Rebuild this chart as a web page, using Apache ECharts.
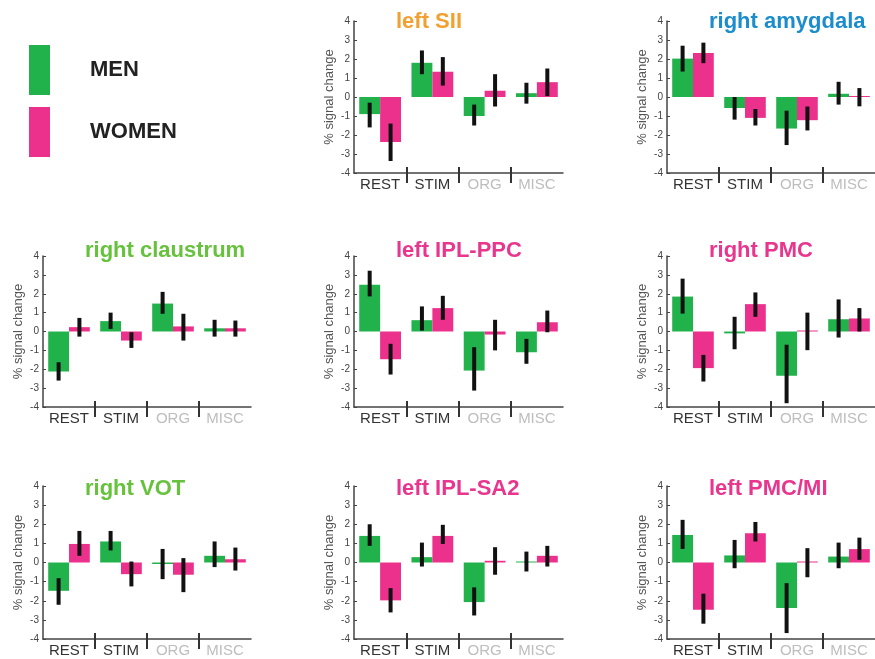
<!DOCTYPE html>
<html>
<head>
<meta charset="utf-8">
<script src="https://cdn.jsdelivr.net/npm/echarts@6/dist/echarts.min.js"></script>
<style>html,body{margin:0;padding:0;background:#fff;}#c{width:875px;height:659px;}</style>
</head>
<body>
<div id="c"></div>
<script>
const categories = ['REST', 'STIM', 'ORG', 'MISC'];
const yTicks = [-4, -3, -2, -1, 0, 1, 2, 3, 4];
const separatorPositions = [1, 2, 3];

const leftSII_men = [-0.9, 1.8, -1.0, 0.2];
const leftSII_menErr = [[-1.6, -0.3], [1.2, 2.45], [-1.5, -0.4], [-0.35, 0.75]];
const leftSII_women = [-2.37, 1.33, 0.33, 0.78];
const leftSII_womenErr = [[-3.37, -1.4], [0.6, 2.1], [-0.5, 1.2], [0.05, 1.5]];

const rightAmygdala_men = [2.02, -0.58, -1.66, 0.17];
const rightAmygdala_menErr = [[1.34, 2.7], [-1.19, 0], [-2.53, -0.72], [-0.4, 0.8]];
const rightAmygdala_women = [2.32, -1.1, -1.22, 0.03];
const rightAmygdala_womenErr = [[1.78, 2.86], [-1.5, -0.63], [-1.76, -0.5], [-0.49, 0.47]];

const rightClaustrum_men = [-2.12, 0.55, 1.48, 0.17];
const rightClaustrum_menErr = [[-2.6, -1.63], [0.14, 1.0], [0.94, 2.1], [-0.27, 0.62]];
const rightClaustrum_women = [0.23, -0.48, 0.27, 0.17];
const rightClaustrum_womenErr = [[-0.27, 0.72], [-0.87, -0.04], [-0.48, 0.94], [-0.27, 0.58]];

const leftIPLPPC_men = [2.48, 0.6, -2.07, -1.1];
const leftIPLPPC_menErr = [[1.86, 3.22], [0.05, 1.33], [-3.13, -0.83], [-1.71, -0.39]];
const leftIPLPPC_women = [-1.47, 1.24, -0.16, 0.49];
const leftIPLPPC_womenErr = [[-2.28, -0.65], [0.62, 1.89], [-1.0, 0.62], [-0.04, 1.11]];

const rightPMC_men = [1.85, -0.1, -2.35, 0.65];
const rightPMC_menErr = [[0.95, 2.8], [-0.94, 0.78], [-3.8, -0.7], [-0.32, 1.7]];
const rightPMC_women = [-1.94, 1.45, 0.02, 0.69];
const rightPMC_womenErr = [[-2.65, -1.24], [0.78, 2.07], [-0.99, 1.0], [0, 1.24]];

const rightVOT_men = [-1.48, 1.1, -0.08, 0.35];
const rightVOT_menErr = [[-2.21, -0.82], [0.63, 1.65], [-0.87, 0.71], [-0.24, 1.1]];
const rightVOT_women = [0.97, -0.61, -0.64, 0.17];
const rightVOT_womenErr = [[0.35, 1.65], [-1.25, 0.05], [-1.55, 0.23], [-0.42, 0.78]];

const leftIPLSA2_men = [1.39, 0.28, -2.07, 0.05];
const leftIPLSA2_menErr = [[0.87, 2.0], [-0.21, 1.04], [-2.77, -1.3], [-0.47, 0.57]];
const leftIPLSA2_women = [-1.98, 1.39, 0.09, 0.35];
const leftIPLSA2_womenErr = [[-2.61, -1.34], [0.97, 1.97], [-0.64, 0.8], [-0.21, 0.87]];

const leftPMCMI_men = [1.44, 0.37, -2.38, 0.31];
const leftPMCMI_menErr = [[0.71, 2.23], [-0.3, 1.18], [-3.69, -1.08], [-0.3, 1.04]];
const leftPMCMI_women = [-2.47, 1.53, 0.02, 0.7];
const leftPMCMI_womenErr = [[-3.2, -1.63], [1.1, 2.12], [-0.77, 0.75], [0.14, 1.3]];

const panelTitles = ['left SII', 'right amygdala', 'right claustrum', 'left IPL-PPC', 'right PMC', 'right VOT', 'left IPL-SA2', 'left PMC/MI'];
const titleColors = ['#f2a130', '#1b8ccc', '#66c23c', '#e8368f', '#e8368f', '#66c23c', '#e8368f', '#e8368f'];

const panels = [
  [leftSII_men, leftSII_menErr, leftSII_women, leftSII_womenErr],
  [rightAmygdala_men, rightAmygdala_menErr, rightAmygdala_women, rightAmygdala_womenErr],
  [rightClaustrum_men, rightClaustrum_menErr, rightClaustrum_women, rightClaustrum_womenErr],
  [leftIPLPPC_men, leftIPLPPC_menErr, leftIPLPPC_women, leftIPLPPC_womenErr],
  [rightPMC_men, rightPMC_menErr, rightPMC_women, rightPMC_womenErr],
  [rightVOT_men, rightVOT_menErr, rightVOT_women, rightVOT_womenErr],
  [leftIPLSA2_men, leftIPLSA2_menErr, leftIPLSA2_women, leftIPLSA2_womenErr],
  [leftPMCMI_men, leftPMCMI_menErr, leftPMCMI_women, leftPMCMI_womenErr]
];

// layout: panel slots (col,row) in the 3x3 grid, top-left slot is the legend
const slots = [[1, 0], [2, 0], [0, 1], [1, 1], [2, 1], [0, 2], [1, 2], [2, 2]];
const colLeft = [43, 354, 667];
const colWidth = [208, 209, 208];
const rowTop = [21, 256, 486];
const rowHeight = [152, 151, 153];
const titleTop = [11, 240, 478];

const MEN = '#22b24c';
const WOMEN = '#ec318d';
const FONT = '"Liberation Sans", Arial, Helvetica, sans-serif';

const chart = echarts.init(document.getElementById('c'), null, {renderer: 'canvas'});

const grids = [], xAxes = [], yAxes = [], series = [], titles = [];

panels.forEach(function (p, i) {
  const c = slots[i][0], r = slots[i][1];
  grids.push({left: colLeft[c], top: rowTop[r], width: colWidth[c], height: rowHeight[r], containLabel: false});
  // main category axis: line + labels
  xAxes.push({
    type: 'category', gridIndex: i, data: categories, position: 'bottom',
    axisLine: {onZero: false, lineStyle: {color: '#444', width: 1.5}},
    axisTick: {show: false},
    axisLabel: {fontSize: 15, fontFamily: FONT, margin: 4, interval: 0, hideOverlap: false,
      color: function (v) { return (v === 'ORG' || v === 'MISC') ? '#bdbdbd' : '#333'; }},
    splitLine: {show: false}
  });
  // separator ticks below the axis
  xAxes.push({
    type: 'value', gridIndex: i, min: 0, max: categories.length, position: 'bottom',
    axisLine: {show: false, onZero: false},
    axisTick: {show: true, length: 10, customValues: separatorPositions, lineStyle: {color: '#333', width: 2}},
    axisLabel: {show: false}, splitLine: {show: false}
  });
  // separator ticks above the axis
  xAxes.push({
    type: 'value', gridIndex: i, min: 0, max: categories.length, position: 'bottom',
    axisLine: {show: false, onZero: false},
    axisTick: {show: true, inside: true, length: 6, customValues: separatorPositions, lineStyle: {color: '#333', width: 2}},
    axisLabel: {show: false}, splitLine: {show: false}
  });
  yAxes.push({
    type: 'value', gridIndex: i, min: yTicks[0], max: yTicks[yTicks.length - 1], interval: 1,
    name: '% signal change', nameLocation: 'middle', nameGap: 18,
    nameTextStyle: {fontSize: 13, color: '#555', fontFamily: FONT},
    axisLine: {show: true, lineStyle: {color: '#444', width: 1.5}},
    axisTick: {show: true, inside: true, length: 3, lineStyle: {color: '#444'}},
    axisLabel: {fontSize: 10, color: '#444', margin: 4, fontFamily: FONT},
    splitLine: {show: false}
  });
  titles.push({
    text: panelTitles[i], left: colLeft[c] + 42, top: titleTop[r], padding: 0,
    textStyle: {fontSize: 22, fontWeight: 'bold', color: titleColors[i], fontFamily: FONT}
  });
  series.push({
    name: 'MEN', type: 'bar', xAxisIndex: 3 * i, yAxisIndex: i, data: p[0],
    barWidth: '40%', barGap: '0%', itemStyle: {color: MEN}, barMinHeight: 1, z: 2
  });
  series.push({
    name: 'WOMEN', type: 'bar', xAxisIndex: 3 * i, yAxisIndex: i, data: p[2],
    barWidth: '40%', barGap: '0%', itemStyle: {color: WOMEN}, barMinHeight: 1, z: 2
  });
  [[p[1], -0.2], [p[3], 0.2]].forEach(function (e) {
    const off = e[1];
    series.push({
      type: 'custom', xAxisIndex: 3 * i, yAxisIndex: i, z: 5,
      data: e[0].map(function (d, k) { return [k, d[0], d[1]]; }),
      encode: {x: 0, y: [1, 2]},
      renderItem: function (params, api) {
        const k = api.value(0);
        const a = api.coord([k, api.value(1)]);
        const b = api.coord([k, api.value(2)]);
        const band = api.size([1, 0])[0];
        const x = a[0] + off * band;
        return {type: 'line', shape: {x1: x, y1: a[1], x2: x, y2: b[1]},
          style: {stroke: '#111', lineWidth: 4}};
      }
    });
  });
});

chart.setOption({
  animation: false,
  backgroundColor: '#fff',
  title: titles,
  legend: {
    data: ['MEN', 'WOMEN'], orient: 'vertical', left: 29, top: 45, padding: 0,
    icon: 'rect', itemWidth: 21, itemHeight: 50, itemGap: 12, selectedMode: false,
    textStyle: {fontSize: 22, fontWeight: 'bold', color: '#222', fontFamily: FONT, padding: [10, 0, 0, 35]}
  },
  grid: grids,
  xAxis: xAxes,
  yAxis: yAxes,
  series: series
});
</script>
</body>
</html>
